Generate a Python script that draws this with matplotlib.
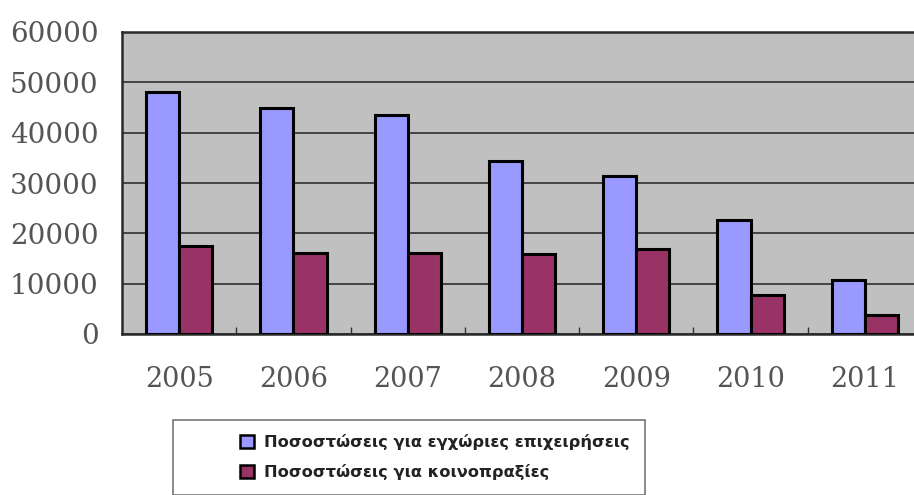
import numpy as np
import matplotlib.pyplot as plt
from matplotlib.patches import Patch, Rectangle

# years and quota counts
years = ['2005', '2006', '2007', '2008', '2009', '2010', '2011']
domestic = [48000, 45000, 43500, 34400, 31400, 22700, 10700]
joint = [17500, 16100, 16100, 15900, 16900, 7750, 3800]
labels = ['Ποσοστώσεις για εγχώριες επιχειρήσεις',
          'Ποσοστώσεις για κοινοπραξίες']

blue = '#9999ff'
maroon = '#993366'

fig = plt.figure(figsize=(9.14, 4.95), dpi=100)
ax = fig.add_axes([122 / 914, 1 - 334 / 495, 800 / 914, 302 / 495])
ax.set_facecolor('#c0c0c0')

x = np.arange(len(years))
w = 0.29
ax.bar(x - w / 2, domestic, w, color=blue, edgecolor='black', linewidth=2.2, zorder=3)
ax.bar(x + w / 2, joint, w, color=maroon, edgecolor='black', linewidth=2.2, zorder=3)

ax.set_xlim(-0.5, len(years) - 0.5)
ax.set_ylim(0, 60000)
ax.set_yticks(np.arange(0, 60001, 10000))
ax.yaxis.grid(True, color='#3a3a3a', linewidth=1.3, zorder=1)

# category separators on the bottom axis
ax.set_xticks(x[:-1] + 0.5, minor=True)
ax.tick_params(axis='x', which='minor', direction='in', length=5, color='#333333', width=1)
ax.set_xticks(x)
ax.set_xticklabels(years)
ax.tick_params(axis='x', which='major', length=0, pad=23, labelsize=19.5, labelcolor='#555555')
ax.tick_params(axis='y', length=0, pad=17, labelsize=20, labelcolor='#555555')
for t in ax.get_xticklabels() + ax.get_yticklabels():
    t.set_fontfamily('DejaVu Serif')

for side in ['left', 'bottom', 'top']:
    ax.spines[side].set_color('#2a2a2a')
    ax.spines[side].set_linewidth(1.8)
ax.spines['right'].set_visible(False)

# legend box below the plot
fig.add_artist(Rectangle((173 / 914, 0), 472 / 914, 75 / 495, transform=fig.transFigure,
                         facecolor='white', edgecolor='#777777', linewidth=1.2))
handles = [Patch(facecolor=blue, edgecolor='black', linewidth=1.8),
           Patch(facecolor=maroon, edgecolor='black', linewidth=1.8)]
fig.legend(handles, labels, loc='upper left', bbox_to_anchor=(229 / 914, 1 - 423 / 495),
           frameon=False, handlelength=0.85, handleheight=0.85, handletextpad=0.6,
           labelspacing=0.85, borderpad=0.2,
           prop={'family': 'DejaVu Sans', 'weight': 'bold', 'size': 11.7})
for t in fig.legends[0].get_texts():
    t.set_color('#222222')

fig.savefig('out.png', dpi=100, facecolor='white')
